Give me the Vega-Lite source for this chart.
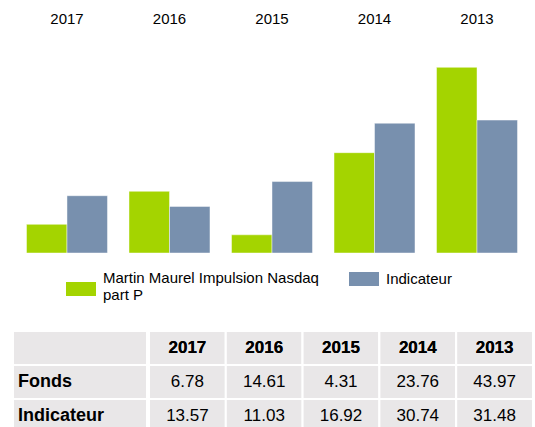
{
  "$schema": "https://vega.github.io/schema/vega-lite/v6.json",
  "padding": {"left": 12, "top": 11, "right": 0, "bottom": 0},
  "spacing": 76,
  "config": {
    "view": {"stroke": null},
    "font": "Liberation Sans",
    "text": {"font": "Liberation Sans"},
    "legend": {
      "title": null,
      "orient": "none",
      "padding": 0,
      "labelFontSize": 15,
      "labelFont": "Liberation Sans",
      "labelColor": "#000000",
      "labelLimit": 400,
      "labelOffset": 7,
      "symbolSize": 900,
      "symbolStrokeWidth": 0
    }
  },
  "datasets": {
    "perf": [
      {"year": "2017", "serie": "Fonds", "value": 6.78},
      {"year": "2017", "serie": "Indicateur", "value": 13.57},
      {"year": "2016", "serie": "Fonds", "value": 14.61},
      {"year": "2016", "serie": "Indicateur", "value": 11.03},
      {"year": "2015", "serie": "Fonds", "value": 4.31},
      {"year": "2015", "serie": "Indicateur", "value": 16.92},
      {"year": "2014", "serie": "Fonds", "value": 23.76},
      {"year": "2014", "serie": "Indicateur", "value": 30.74},
      {"year": "2013", "serie": "Fonds", "value": 43.97},
      {"year": "2013", "serie": "Indicateur", "value": 31.48}
    ]
  },
  "vconcat": [
    {
      "width": 518,
      "height": 190,
      "data": {"name": "perf"},
      "encoding": {
        "x": {
          "field": "year", "type": "nominal",
          "sort": ["2017", "2016", "2015", "2014", "2013"],
          "scale": {"paddingInner": 0.21, "paddingOuter": 0.1317},
          "axis": {"orient": "top", "title": null, "domain": false, "ticks": false, "tickSize": 0, "labelPadding": 37, "labelFontSize": 15, "labelColor": "#000000", "labelAngle": 0, "labelFont": "Liberation Sans"}
        },
        "xOffset": {"field": "serie", "type": "nominal", "scale": {"domain": ["Fonds", "Indicateur"], "paddingInner": 0, "paddingOuter": 0}},
        "y": {"field": "value", "type": "quantitative", "scale": {"domain": [0, 45], "nice": false}, "axis": null}
      },
      "layer": [
        {
          "transform": [{"filter": "datum.serie == 'Fonds'"}],
          "mark": {"type": "bar", "stroke": "#ffffff", "strokeOpacity": 0.45, "strokeWidth": 1},
          "encoding": {
            "color": {
              "field": "serie", "type": "nominal",
              "scale": {"domain": ["Fonds"], "range": ["#a4d400"]},
              "legend": {
                "legendX": 53,
                "legendY": 200,
                "symbolType": "M-1,0.267H1V1.2H-1Z",
                "labelExpr": "['Martin Maurel Impulsion Nasdaq', 'part P']"
              }
            }
          }
        },
        {
          "transform": [{"filter": "datum.serie == 'Indicateur'"}],
          "mark": {"type": "bar", "stroke": "#ffffff", "strokeOpacity": 0.45, "strokeWidth": 1},
          "encoding": {
            "fill": {
              "field": "serie", "type": "nominal",
              "scale": {"domain": ["Indicateur"], "range": ["#7890ae"]},
              "legend": {
                "legendX": 336,
                "legendY": 201,
                "symbolType": "M-1,-0.467H1V0.467H-1Z"
              }
            }
          }
        }
      ]
    },
    {
      "spacing": 0,
      "hconcat": [
        {
          "width": 134,
          "height": 102,
          "data": {"name": "perf"},
          "transform": [{"filter": "datum.year == '2017'"}],
          "layer": [
            {
              "mark": {"type": "rect", "fill": "#e9e7e8", "stroke": "#ffffff", "strokeWidth": 2},
              "encoding": {
                "x": {"datum": "label", "type": "nominal", "scale": {"paddingInner": 0, "paddingOuter": 0}, "axis": null},
                "y": {"field": "serie", "type": "nominal", "scale": {"domain": ["Année", "Fonds", "Indicateur"], "paddingInner": 0, "paddingOuter": 0}, "axis": null}
              }
            },
            {
              "mark": {"type": "rect", "fill": "#e9e7e8", "stroke": "#ffffff", "strokeWidth": 2},
              "encoding": {
                "x": {"datum": "label", "type": "nominal", "axis": null},
                "y": {"datum": "Année", "type": "nominal", "axis": null}
              }
            },
            {
              "mark": {"type": "text", "align": "left", "baseline": "middle", "dx": 5, "fontSize": 18, "fontWeight": "bold", "color": "#000000"},
              "encoding": {
                "x": {"datum": "label", "type": "nominal", "bandPosition": 0, "axis": null},
                "y": {"field": "serie", "type": "nominal", "axis": null},
                "text": {"field": "serie"}
              }
            }
          ]
        },
        {
          "width": 384,
          "height": 102,
          "data": {"name": "perf"},
          "layer": [
            {
              "mark": {"type": "rect", "fill": "#e9e7e8", "stroke": "#ffffff", "strokeWidth": 2},
              "encoding": {
                "x": {"field": "year", "type": "nominal", "sort": ["2017", "2016", "2015", "2014", "2013"], "scale": {"paddingInner": 0, "paddingOuter": 0}, "axis": null},
                "y": {"field": "serie", "type": "nominal", "scale": {"domain": ["Année", "Fonds", "Indicateur"], "paddingInner": 0, "paddingOuter": 0}, "axis": null}
              }
            },
            {
              "mark": {"type": "rect", "fill": "#e9e7e8", "stroke": "#ffffff", "strokeWidth": 2},
              "encoding": {
                "x": {"field": "year", "type": "nominal", "sort": ["2017", "2016", "2015", "2014", "2013"], "axis": null},
                "y": {"datum": "Année", "type": "nominal", "axis": null}
              }
            },
            {
              "mark": {"type": "text", "align": "center", "baseline": "middle", "fontSize": 17, "color": "#000000"},
              "encoding": {
                "x": {"field": "year", "type": "nominal", "sort": ["2017", "2016", "2015", "2014", "2013"], "axis": null},
                "y": {"field": "serie", "type": "nominal", "axis": null},
                "text": {"field": "value", "type": "quantitative", "format": ".2f"}
              }
            },
            {
              "mark": {"type": "text", "align": "center", "baseline": "middle", "fontSize": 17, "fontWeight": "bold", "color": "#000000"},
              "encoding": {
                "x": {"field": "year", "type": "nominal", "sort": ["2017", "2016", "2015", "2014", "2013"], "axis": null},
                "y": {"datum": "Année", "type": "nominal", "axis": null},
                "text": {"field": "year"}
              }
            }
          ]
        }
      ]
    }
  ]
}
